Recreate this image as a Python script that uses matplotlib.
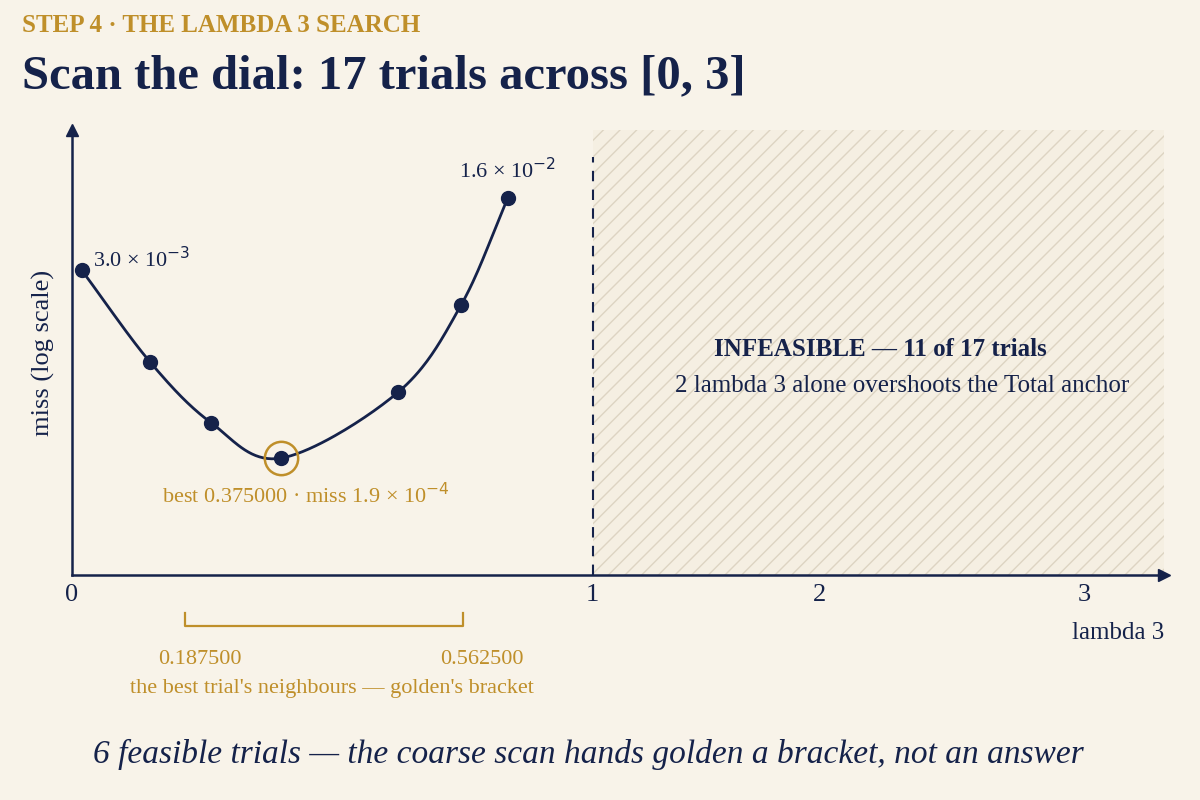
import numpy as np
import matplotlib
matplotlib.use("Agg")
import matplotlib.pyplot as plt
from matplotlib.transforms import blended_transform_factory

# data
trial_x = [0.019, 0.15, 0.267, 0.401, 0.626, 0.747, 0.837]
trial_miss = [3.0e-3, 7.8e-4, 3.2e-4, 1.9e-4, 5.0e-4, 1.8e-3, 8.7e-3]
best_idx = 3
x_ticks = [0, 1, 2, 3]
bracket_lo, bracket_hi = 0.187500, 0.562500
bracket_pos = [0.217, 0.750]   # where the bracket sits on the drawn axis

BG = "#f8f3e9"
NAVY = "#15224a"
GOLD = "#bf8f2a"
plt.rcParams['font.family'] = ['Liberation Serif', 'DejaVu Serif']

# the illustration stretches [0,1] and squeezes the infeasible side
knots_x = [-1, 0, 1, 2, 3, 4]
knots_p = [-521, 0, 521, 748, 1013, 1278]
fwd = lambda v: np.interp(v, knots_x, knots_p)
inv = lambda v: np.interp(v, knots_p, knots_x)


def catmull_rom(px, py, n=40):
    px = np.asarray(px, float)
    py = np.asarray(py, float)
    P = np.column_stack([px, py])
    P = np.vstack([2 * P[0] - P[1], P, 2 * P[-1] - P[-2]])
    out = []
    t = np.linspace(0, 1, n)[:, None]
    for i in range(1, len(P) - 2):
        p0, p1, p2, p3 = P[i - 1], P[i], P[i + 1], P[i + 2]
        seg = 0.5 * ((2 * p1) + (-p0 + p2) * t + (2 * p0 - 5 * p1 + 4 * p2 - p3) * t ** 2
                     + (-p0 + 3 * p1 - 3 * p2 + p3) * t ** 3)
        out.append(seg)
    out = np.vstack(out)
    return out[:, 0], out[:, 1]


fig = plt.figure(figsize=(12, 8), dpi=100, facecolor=BG)
ax = fig.add_axes([0.06, 0.281, 0.91, 0.556], facecolor=BG)
ax.set_xscale('function', functions=(fwd, inv))
ax.set_yscale('log')
ax.set_xlim(0, 3.3)
ax.set_ylim(3.4e-5, 2.35e-2)

# smooth curve through the trials (log space)
cx, cy = catmull_rom(trial_x, np.log10(trial_miss))
ax.plot(cx, 10 ** cy, color=NAVY, lw=2, zorder=3)
ax.plot(trial_x, trial_miss, 'o', color=NAVY, ms=10, zorder=4)
ax.plot(trial_x[best_idx], trial_miss[best_idx], 'o', mfc='none', mec=GOLD,
        ms=24, mew=1.8, zorder=5)

# infeasible region
ax.axvspan(1, 3.3, facecolor="#f5efe2", edgecolor="#ddd4c2", hatch='//',
           lw=0, zorder=1)
ax.plot([1, 1], [3.4e-5, 1.6e-2], ls=(0, (5, 4)), color=NAVY, lw=1.5, zorder=2)

for s in ['top', 'right']:
    ax.spines[s].set_visible(False)
for s in ['left', 'bottom']:
    ax.spines[s].set_color(NAVY)
    ax.spines[s].set_linewidth(1.8)
ax.plot(1, 0, '>', color=NAVY, ms=9, transform=ax.transAxes, clip_on=False)
ax.plot(0, 1, '^', color=NAVY, ms=9, transform=ax.transAxes, clip_on=False)

ax.set_xticks(x_ticks)
ax.set_xticklabels([str(t) for t in x_ticks], fontsize=19, color=NAVY)
ax.xaxis.set_minor_locator(matplotlib.ticker.NullLocator())
ax.tick_params(axis='x', length=0, pad=6)
ax.set_yticks([])
ax.yaxis.set_minor_locator(matplotlib.ticker.NullLocator())
ax.set_ylabel("miss (log scale)", fontsize=19, color=NAVY, labelpad=12)
ax.text(3.3, -0.13, "lambda 3", transform=blended_transform_factory(ax.transData, ax.transAxes),
        ha='right', va='center', fontsize=18, color=NAVY)

# point labels
ax.annotate("3.0 × 10$^{-3}$", (trial_x[0], trial_miss[0]), xytext=(8, 2),
            textcoords='offset points', fontsize=16, color=NAVY)
ax.annotate("1.6 × 10$^{-2}$", (trial_x[-1], trial_miss[-1]), xytext=(0, 14),
            textcoords='offset points', fontsize=16, color=NAVY, ha='center')
ax.annotate("best %.6f · miss 1.9 × 10$^{-4}$" % 0.375, (trial_x[best_idx], trial_miss[best_idx]),
            xytext=(18, -18), textcoords='offset points', fontsize=16, color=GOLD,
            ha='center', va='top')

ax.text(2.23, 10 ** -3.03, "INFEASIBLE — 11 of 17 trials", fontsize=18,
        fontweight='bold', color=NAVY, ha='center', va='center')
ax.text(2.31, 10 ** -3.26, "2 lambda 3 alone overshoots the Total anchor",
        fontsize=18, color=NAVY, ha='center', va='center')

# bracket under the axis
bt = blended_transform_factory(ax.transData, ax.transAxes)
b0, b1 = bracket_pos
ax.plot([b0, b0, b1, b1], [-0.085, -0.115, -0.115, -0.085], color=GOLD, lw=1.6,
        transform=bt, clip_on=False)
ax.text(0.246, -0.19, "%.6f" % bracket_lo, transform=bt, ha='center', va='center',
        fontsize=16, color=GOLD)
ax.text(0.787, -0.19, "%.6f" % bracket_hi, transform=bt, ha='center', va='center',
        fontsize=16, color=GOLD)
ax.text(0.499, -0.255, "the best trial's neighbours — golden's bracket",
        transform=bt, ha='center', va='center', fontsize=16, color=GOLD)

# titles
fig.text(0.018, 0.968, "STEP 4 · THE LAMBDA 3 SEARCH", fontsize=18, color=GOLD,
         va='center', fontweight='bold')
fig.text(0.018, 0.905, "Scan the dial: 17 trials across [0, 3]", fontsize=35,
         color=NAVY, va='center', fontweight='bold')
fig.text(0.49, 0.057, "6 feasible trials — the coarse scan hands golden a bracket, not an answer",
         fontsize=24, color=NAVY, style='italic', ha='center', va='center')

fig.savefig("out.png", dpi=100, facecolor=BG)
